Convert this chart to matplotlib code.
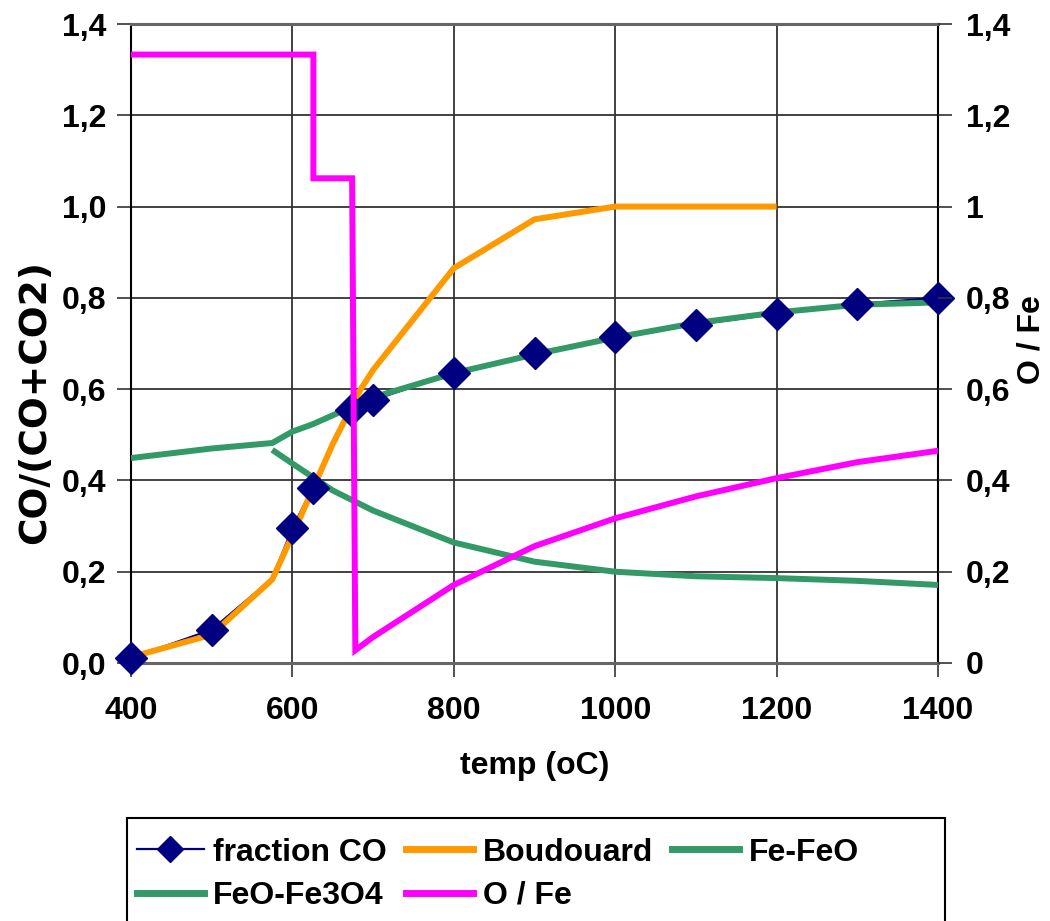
import matplotlib
matplotlib.use("Agg")
import matplotlib.pyplot as plt
from matplotlib.lines import Line2D
from matplotlib.patches import Rectangle

plt.rcParams['font.family'] = ['Liberation Sans', 'DejaVu Sans']
plt.rcParams['font.weight'] = 'bold'

# ---- data ----
frac_T = [400, 500, 600, 625, 672, 700, 800, 900, 1000, 1100, 1200, 1300, 1400]
frac_CO = [0.011, 0.073, 0.296, 0.383, 0.554, 0.576, 0.635, 0.680, 0.714, 0.741, 0.765, 0.787, 0.800]
# connecting line of the fraction CO series (runs along the Boudouard curve)
frac_line_T = [400, 500, 575, 600, 625, 672, 700, 800, 900, 1000, 1100, 1200, 1300, 1400]
frac_line = [0.011, 0.073, 0.185, 0.296, 0.383, 0.554, 0.576, 0.635, 0.680, 0.714, 0.741, 0.765, 0.787, 0.800]

boud_T = [400, 500, 575, 600, 625, 650, 684, 700, 800, 900, 1000, 1100, 1200]
boud = [0.013, 0.062, 0.183, 0.280, 0.380, 0.480, 0.598, 0.642, 0.865, 0.972, 1.0, 1.0, 1.0]

fefeo_T = [400, 500, 575, 600, 625, 700, 800, 900, 1000, 1100, 1200, 1300, 1400]
fefeo = [0.449, 0.470, 0.482, 0.507, 0.523, 0.582, 0.635, 0.676, 0.713, 0.745, 0.768, 0.785, 0.790]

feofe3o4_T = [575, 600, 650, 700, 800, 900, 1000, 1100, 1200, 1300, 1400]
feofe3o4 = [0.467, 0.437, 0.378, 0.334, 0.264, 0.222, 0.200, 0.190, 0.186, 0.180, 0.171]

ofe_T = [400, 626, 626, 674, 678, 700, 800, 900, 1000, 1100, 1200, 1300, 1400]
ofe = [1.333, 1.333, 1.062, 1.062, 0.028, 0.057, 0.171, 0.256, 0.317, 0.365, 0.405, 0.440, 0.465]

xticks = [400, 600, 800, 1000, 1200, 1400]
yticks = [0.0, 0.2, 0.4, 0.6, 0.8, 1.0, 1.2, 1.4]
left_labels = ['0,0', '0,2', '0,4', '0,6', '0,8', '1,0', '1,2', '1,4']
right_labels = ['0', '0,2', '0,4', '0,6', '0,8', '1', '1,2', '1,4']

NAVY = '#000080'
ORANGE = '#FF9900'
GREEN = '#339966'
MAGENTA = '#FF00FF'
FS = 23
W, H = 1050, 921

fig = plt.figure(figsize=(10.5, 9.21), dpi=100)
ax = fig.add_axes([131/W, 1-663/H, (938-131)/W, (663-24)/H])

ax.plot(frac_line_T, frac_line, color=NAVY, lw=1.6, zorder=2)
ax.plot(boud_T, boud, color=ORANGE, lw=4.3, zorder=3, solid_capstyle='butt')
ax.plot(fefeo_T, fefeo, color=GREEN, lw=4.3, zorder=3, solid_capstyle='butt')
ax.plot(feofe3o4_T, feofe3o4, color=GREEN, lw=4.3, zorder=3, solid_capstyle='butt')
ax.plot(frac_T, frac_CO, ls='none', marker='D', ms=16.5, color=NAVY, zorder=4, clip_on=False)

ax.set_xlim(400, 1400)
ax.set_ylim(0, 1.4)
ax.set_xticks(xticks)
ax.set_xticklabels([str(t) for t in xticks], fontsize=FS, fontweight='bold')
ax.set_yticks(yticks)
ax.set_yticklabels(left_labels, fontsize=FS, fontweight='bold')
ax.tick_params(axis='both', direction='out', length=10, width=1.2, color='#333333', pad=8)
ax.tick_params(axis='x', pad=14)
ax.grid(True, color='#333333', lw=1.3, zorder=0)
ax.set_axisbelow(True)
for s in ['top', 'bottom']:
    ax.spines[s].set_color('#666666')
    ax.spines[s].set_linewidth(2.2)
ax.spines['left'].set_color('black')
ax.spines['left'].set_linewidth(1.5)
ax.spines['right'].set_color('black')
ax.spines['right'].set_linewidth(1.5)
ax.set_xlabel('temp (oC)', fontsize=FS, fontweight='bold', labelpad=18)
fig.text(35/W, 1-402/H, 'CO/(CO+CO2)', rotation=90, ha='center', va='center',
         fontsize=27, fontweight='bold', family=['DejaVu Sans'])

ax2 = ax.twinx()
ax2.plot(ofe_T, ofe, color=MAGENTA, lw=4.3, zorder=5, solid_joinstyle='miter')
ax2.set_ylim(0, 1.4)
ax2.set_yticks(yticks)
ax2.set_yticklabels(right_labels, fontsize=FS, fontweight='bold')
ax2.tick_params(axis='y', direction='out', length=10, width=1.2, color='#333333', pad=10)
for s in ax2.spines.values():
    s.set_visible(False)
fig.text(1031/W, 1-340/H, 'O / Fe', rotation=90, ha='center', va='center',
         fontsize=FS, fontweight='bold')

handles = [
    Line2D([], [], color=NAVY, lw=1.6, marker='D', ms=13),
    Line2D([], [], color=GREEN, lw=5),
    Line2D([], [], color=ORANGE, lw=5),
    Line2D([], [], color=MAGENTA, lw=5),
    Line2D([], [], color=GREEN, lw=5),
]
labels = ['fraction CO', 'FeO-Fe3O4', 'Boudouard', 'O / Fe', 'Fe-FeO']
leg = fig.legend(handles, labels, ncol=3, loc='upper left',
                 bbox_to_anchor=(127/W, 1-828/H),
                 prop={'size': FS, 'weight': 'bold'},
                 frameon=False,
                 handlelength=2.1, handletextpad=0.3, columnspacing=0.6,
                 labelspacing=0.42, borderpad=0.3, borderaxespad=0)

fig.patches.append(Rectangle((127/W, -0.01), (945-127)/W, 1-818/H+0.01,
                             transform=fig.transFigure, fill=False,
                             edgecolor='black', lw=1.5))

fig.savefig('out.png', dpi=100)
